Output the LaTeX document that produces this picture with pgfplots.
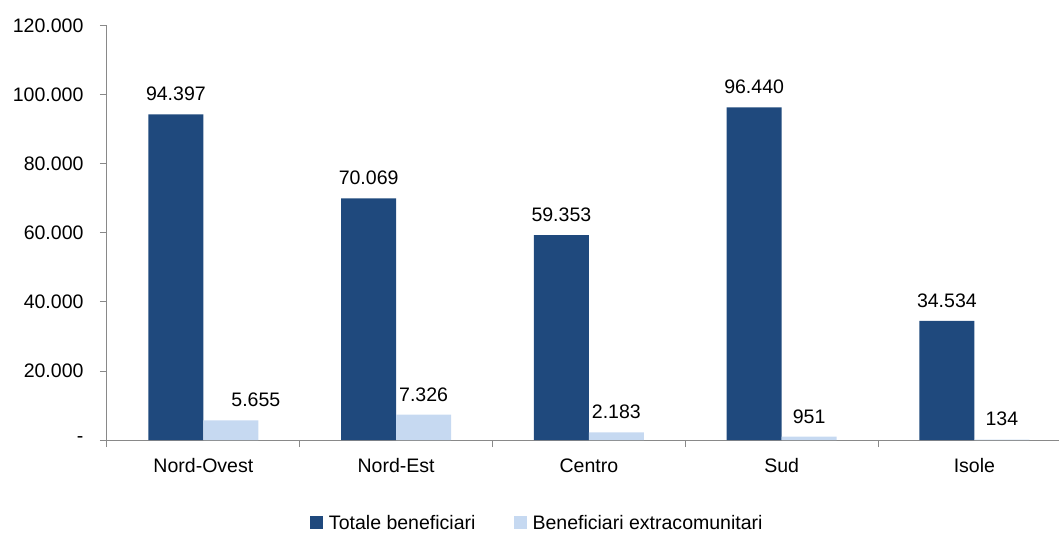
\documentclass[border=0pt]{standalone}
\usepackage{pgfplots}
\pgfplotsset{compat=1.18}
\usepackage{fontspec}
\setmainfont{Liberation Sans}
\definecolor{dark}{HTML}{1F497D}
\definecolor{light}{HTML}{C6D9F1}
\definecolor{axgray}{HTML}{898989}

\pgfplotsset{
  sqlegend/.style={legend image code/.code={%
    \fill[##1] (0bp,-6.5bp) rectangle (13bp,6.5bp);
    \path (17bp,0bp);}}
}

\begin{document}
\begin{tikzpicture}[font=\fontsize{19.6}{23}\selectfont]
\begin{axis}[
    name=ax, at={(0,0)}, anchor=south west,
    scale only axis, width=952bp, height=414bp,
    ymin=0, ymax=120000, xmin=-0.5, xmax=4.439,
    ybar=0pt, bar width=55bp,
    axis lines*=left,
    axis line style={axgray, line width=1bp},
    scaled y ticks=false,
    ytick={0,20000,...,120000},
    yticklabels={-,20.000,40.000,60.000,80.000,100.000,120.000},
    xtick={0,...,4},
    xticklabels={Nord-Ovest,Nord-Est,Centro,Sud,Isole},
    minor xtick={-0.5,0.5,1.5,2.5,3.5},
    tick align=outside, major tick length=7bp, minor tick length=7bp,
    major x tick style={draw=none},
    minor x tick style={axgray, line width=1bp},
    y tick style={axgray, line width=1bp},
    xticklabel style={yshift=-8bp},
    yticklabel style={xshift=-13bp},
    nodes near coords,
    point meta=explicit symbolic,
    every node near coord/.append style={font=\fontsize{19.6}{23}\selectfont, text=black, yshift=10bp},
    legend columns=2,
    legend style={at={(0.452,-0.2)}, anchor=center, draw=none, fill=none,
      /tikz/every even column/.append style={column sep=36bp}},
]
% Totale beneficiari
\addplot[fill=dark, draw=none, sqlegend] coordinates {
    (0,94397) [94.397]
    (1,70069) [70.069]
    (2,59353) [59.353]
    (3,96440) [96.440]
    (4,34534) [34.534]
};
\addlegendentry{Totale beneficiari}

% Beneficiari extracomunitari
\addplot[fill=light, draw=none, sqlegend] coordinates {
    (0,5655) [\hspace*{50bp}5.655]
    (1,7326) [7.326]
    (2,2183) [2.183]
    (3,951) [951]
    (4,134) [134]
};
\addlegendentry{Beneficiari extracomunitari}
\end{axis}
\pgfresetboundingbox
\path[use as bounding box] (-107bp,-94bp) rectangle (952bp,440bp);
\end{tikzpicture}
\end{document}
